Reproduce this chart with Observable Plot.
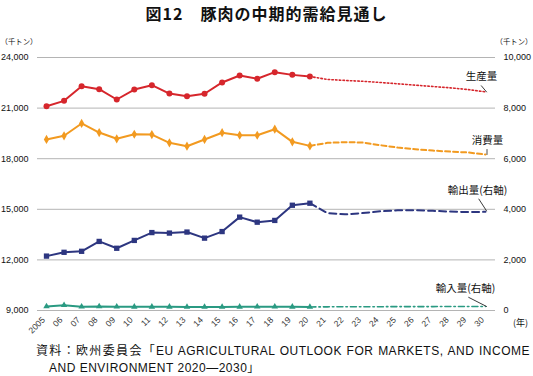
<!DOCTYPE html>
<html><head><meta charset="utf-8">
<script src="https://cdn.jsdelivr.net/npm/d3@7"></script>
<script src="https://cdn.jsdelivr.net/npm/@observablehq/plot@0.6"></script>
<style>
body{margin:0;background:#fff;width:533px;height:376px;overflow:hidden;font-family:"Liberation Sans","Noto Sans CJK JP",sans-serif;color:#111;}
#title{height:26px;line-height:26px;text-align:center;font-size:16px;font-weight:bold;letter-spacing:1px;font-family:"Noto Sans CJK JP",sans-serif;}
#chart svg{display:block;overflow:visible}
#caption{font-size:12px;line-height:17px;padding-top:3px;letter-spacing:0.5px;font-family:"Liberation Sans","Noto Sans CJK JP",sans-serif;}
#cap1{margin-left:36px;width:494px;text-align:justify;text-align-last:justify;white-space:nowrap;}
#cap2{margin-left:49px;white-space:nowrap;}
</style></head>
<body>
<div id="title">図12　豚肉の中期的需給見通し</div>
<div id="chart"></div>
<div id="caption"><div id="cap1">資料：欧州委員会「EU AGRICULTURAL OUTLOOK FOR MARKETS, AND INCOME</div><div id="cap2">AND ENVIRONMENT 2020—2030」</div></div>
<script>
// ---- data ----
const histYears = [2005,2006,2007,2008,2009,2010,2011,2012,2013,2014,2015,2016,2017,2018,2019,2020];
const projYears = [2020,2021,2022,2023,2024,2025,2026,2027,2028,2029,2030];
const xYears = [2005,2006,2007,2008,2009,2010,2011,2012,2013,2014,2015,2016,2017,2018,2019,2020,2021,2022,2023,2024,2025,2026,2027,2028,2029,2030];
const xLabels = ["2005","06","07","08","09","10","11","12","13","14","15","16","17","18","19","20","21","22","23","24","25","26","27","28","29","30"];
const leftTicks = [9000,12000,15000,18000,21000,24000];
const rightTicks = [0,2000,4000,6000,8000,10000];
const unitLabel = "（千トン）";
const yearLabel = "(年)";
const seriesNames = ["生産量","消費量","輸出量(右軸)","輸入量(右軸)"];

// production & consumption: left axis (thousand t)
const production = [21110,21430,22300,22120,21510,22100,22360,21860,21700,21850,22520,22930,22740,23130,22970,22870];
const productionProj = [22870,22700,22640,22590,22520,22440,22360,22280,22200,22100,21960];
const consumption = [19140,19360,20090,19550,19180,19450,19430,18940,18740,19140,19540,19390,19390,19750,19000,18760];
const consumptionProj = [18760,18940,18980,18960,18800,18660,18560,18480,18420,18370,18250];
// exports & imports: right axis (thousand t)
const exportsV = [2150,2300,2340,2730,2460,2770,3080,3060,3100,2860,3120,3690,3490,3560,4160,4240];
const exportsProj = [4240,3850,3800,3850,3920,3960,3960,3940,3910,3890,3900];
const importsV = [160,210,150,160,150,145,145,145,140,140,140,145,150,150,145,140];
const importsProj = [140,145,150,150,150,155,155,155,160,160,160];

// ---- chart ----
const toLeft = r => 9000 + 1.5 * r;        // right axis -> left axis units
const fmt = d3.format(",");
const pts = (xs, vs, f = v => v) => xs.map((x, i) => ({x, y: f(vs[i])}));

const red = "#d6262c", orange = "#f29a20", navy = "#2d3680", teal = "#2a9a82";

const prodH = pts(histYears, production), prodP = pts(projYears, productionProj);
const consH = pts(histYears, consumption), consP = pts(projYears, consumptionProj);
const expH = pts(histYears, exportsV, toLeft), expP = pts(projYears, exportsProj, toLeft);
const impH = pts(histYears, importsV, toLeft), impP = pts(projYears, importsProj, toLeft);

const lastOf = a => [a[a.length - 1]];
const leader = (data, o) => Plot.vector(lastOf(data), {x: "x", y: "y", anchor: "start", stroke: "#222", strokeWidth: 0.8,
  shape: {draw(ctx, l) { ctx.moveTo(0, 0); ctx.lineTo(0, -l); }}, ...o});
const label = (data, text, o) => Plot.text(lastOf(data), {x: "x", y: "y", text: () => text, fontSize: 10.5,
  fontFamily: "'Noto Sans CJK JP',sans-serif", fill: "#111", ...o});

const chart = Plot.plot({
  width: 533, height: 314,
  marginTop: 31, marginBottom: 30, marginLeft: 37, marginRight: 38,
  x: {domain: [2005, 2030], insetLeft: 9, insetRight: 10, axis: null},
  y: {domain: [9000, 24000], axis: null},
  style: {fontFamily: "'Liberation Sans','Noto Sans CJK JP',sans-serif", fontSize: "9px", color: "#111", background: "white", overflow: "visible"},
  marks: [
    Plot.ruleY(leftTicks, {stroke: "#b4b4b4", strokeWidth: 1}),
    Plot.axisY(leftTicks, {anchor: "left", tickSize: 0, tickPadding: 9, tickFormat: fmt, label: null, fontSize: 9}),
    Plot.axisY(rightTicks.map(toLeft), {anchor: "right", tickSize: 0, tickPadding: 8, tickFormat: d => fmt(Math.round((d - 9000) / 1.5)), label: null, fontSize: 9}),
    Plot.text(xYears, {x: d => d, frameAnchor: "bottom", text: d => xLabels[xYears.indexOf(d)], rotate: -45, textAnchor: "end", dx: -1, dy: 10, fontSize: 8.5, fill: "#333"}),
    Plot.text([yearLabel], {frameAnchor: "bottom-right", text: d => d, dx: 25, dy: 15, fontSize: 9, textAnchor: "middle", fontFamily: "'Noto Sans CJK JP',sans-serif"}),
    Plot.text([unitLabel], {frameAnchor: "top-left", text: d => d, dx: -37, dy: -19, fontSize: 7.4, textAnchor: "start", fontFamily: "'Noto Sans CJK JP',sans-serif"}),
    Plot.text([unitLabel], {frameAnchor: "top-right", text: d => d, dx: 0, dy: -19, fontSize: 7.4, textAnchor: "start", fontFamily: "'Noto Sans CJK JP',sans-serif"}),

    // imports (right axis)
    Plot.line(impP, {x: "x", y: "y", stroke: teal, strokeWidth: 1.6, strokeDasharray: "6,3,1.5,3"}),
    Plot.line(impH, {x: "x", y: "y", stroke: teal, strokeWidth: 2}),
    Plot.dot(impH, {x: "x", y: "y", symbol: "triangle", r: 2.4, fill: teal}),
    // exports (right axis)
    Plot.line(expP, {x: "x", y: "y", stroke: navy, strokeWidth: 2, strokeDasharray: "7,4"}),
    Plot.line(expH, {x: "x", y: "y", stroke: navy, strokeWidth: 2}),
    Plot.dot(expH, {x: "x", y: "y", symbol: "square", r: 3, fill: navy}),
    // consumption
    Plot.line(consP, {x: "x", y: "y", stroke: orange, strokeWidth: 2, strokeDasharray: "5,3"}),
    Plot.line(consH, {x: "x", y: "y", stroke: orange, strokeWidth: 2}),
    Plot.dot(consH, {x: "x", y: "y", symbol: "diamond", r: 2.8, fill: orange}),
    // production
    Plot.line(prodP, {x: "x", y: "y", stroke: red, strokeWidth: 1.6, strokeDasharray: "1.5,2.2"}),
    Plot.line(prodH, {x: "x", y: "y", stroke: red, strokeWidth: 2}),
    Plot.dot(prodH, {x: "x", y: "y", symbol: "circle", r: 3, fill: red}),

    // series labels with leader lines
    leader(prodP, {length: 8, rotate: -40, dx: 1}),
    label(prodP, seriesNames[0], {dx: -4, dy: -15}),
    leader(consP, {length: 5, rotate: 0, dx: 1.5}),
    label(consP, seriesNames[1], {dx: 2, dy: -14}),
    leader(expP, {length: 14, rotate: -33, dx: 1, dy: -1}),
    label(expP, seriesNames[2], {dx: -8, dy: -21}),
    leader(impP, {length: 20, rotate: -63, dx: 1}),
    label(impP, seriesNames[3], {dx: -20, dy: -18})
  ]
});
document.getElementById("chart").append(chart);
</script>
</body></html>
